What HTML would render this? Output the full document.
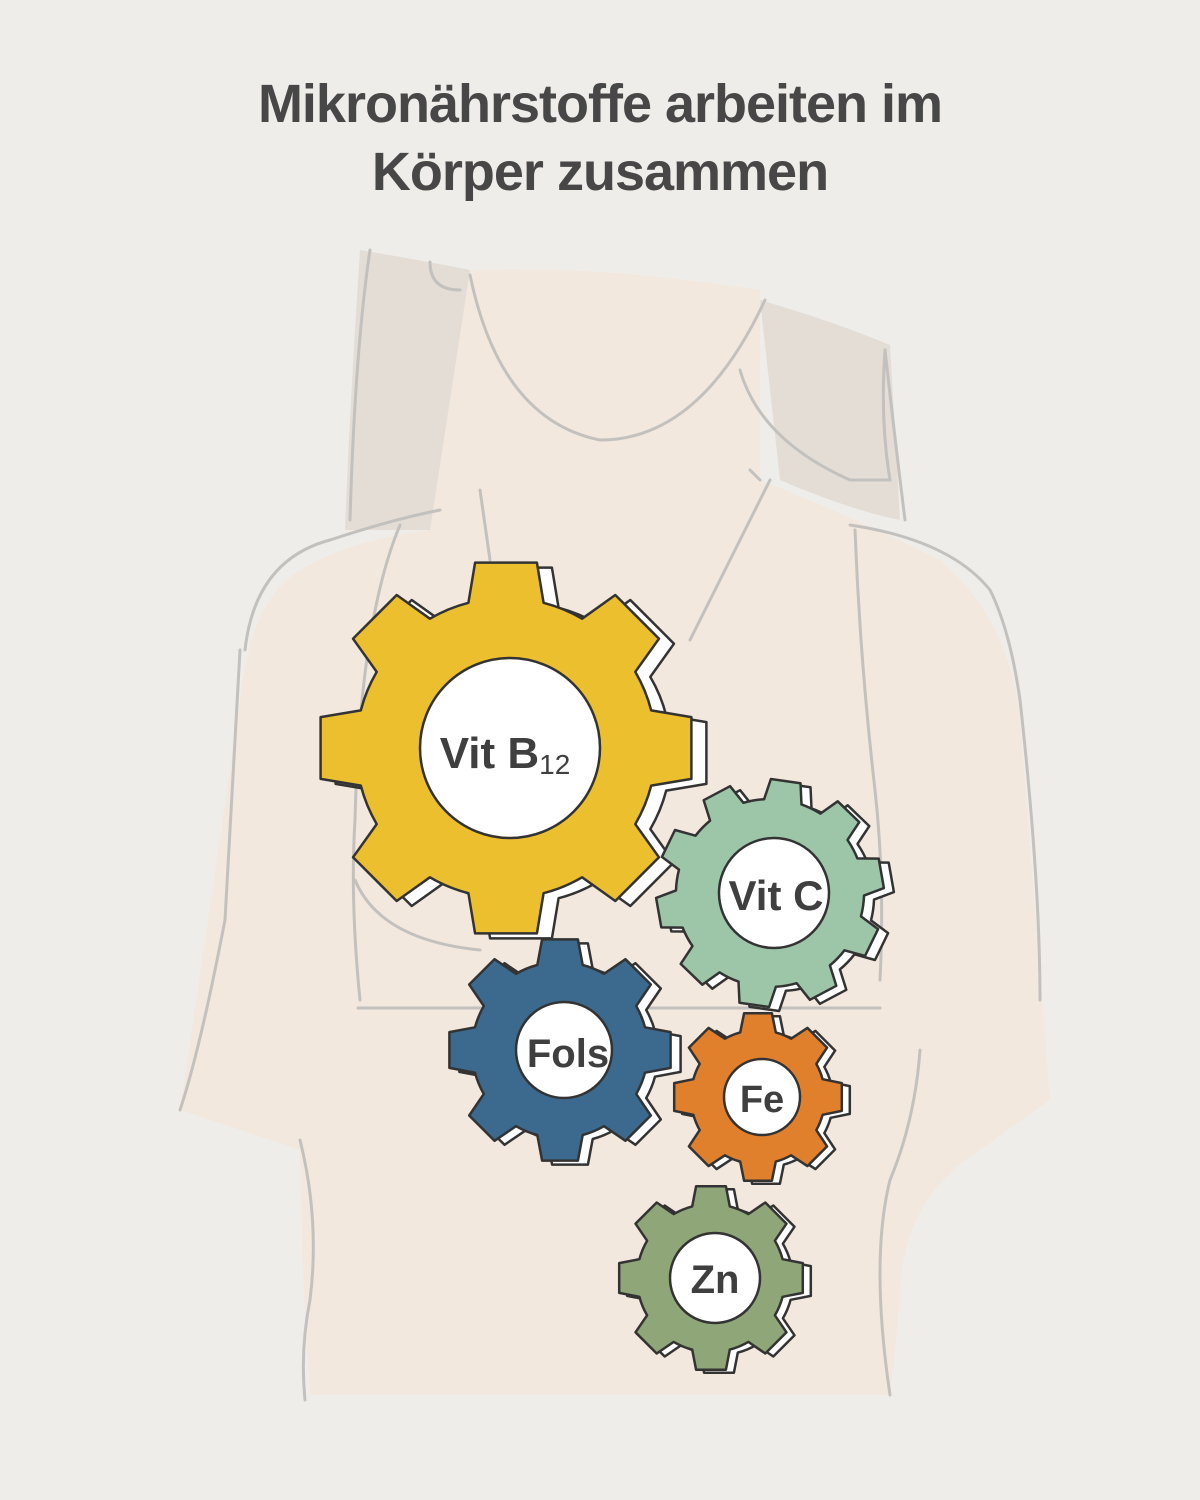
<!DOCTYPE html>
<html><head><meta charset="utf-8">
<style>
html,body{margin:0;padding:0;}
body{width:1200px;height:1500px;background:#efedea;overflow:hidden;position:relative;font-family:"Liberation Sans",sans-serif;}
h1{position:absolute;top:70px;left:0;width:1200px;margin:0;text-align:center;font-size:54px;line-height:68px;color:#474747;font-weight:bold;letter-spacing:-1px;}
svg{position:absolute;left:0;top:0;}
.lbl{font-family:"Liberation Sans",sans-serif;font-weight:bold;fill:#3f3f3f;text-anchor:middle;}
</style></head>
<body>
<svg width="1200" height="1500" viewBox="0 0 1200 1500">
 <g fill="none" stroke="#c3c1be" stroke-width="3" stroke-linecap="round">
  <path d="M470,270 Q600,265 760,290 L760,480 Q860,520 940,560 Q1010,620 1020,720 L1050,1100 L980,1150 Q900,1200 900,1300 L890,1395 L310,1395 Q300,1250 300,1150 L180,1110 L240,700 Q250,600 300,570 Q350,540 430,530 L470,270Z" fill="#f3e8de" stroke="none"/>
  <path d="M360,250 Q420,260 470,270 L430,530 L345,530 Q350,400 360,250Z" fill="#e3ddd6" stroke="none"/>
  <path d="M760,300 Q830,320 890,345 L900,520 Q850,510 780,480 L760,300Z" fill="#e3ddd6" stroke="none"/>
  <path d="M370,250 Q355,350 350,520"/>
  <path d="M430,262 Q430,290 460,290"/>
  <path d="M470,275 Q500,420 600,440 Q700,440 765,300"/>
  <path d="M740,370 Q760,440 850,480 L890,480 Q880,420 885,350"/>
  <path d="M885,350 Q895,440 905,520"/>
  <path d="M245,650 Q255,560 330,540 Q390,520 440,510"/>
  <path d="M240,650 L225,920 Q200,1050 180,1110"/>
  <path d="M480,490 L490,560"/>
  <path d="M770,480 Q730,560 690,640"/>
  <path d="M855,530 Q860,660 875,790 Q885,880 880,980"/>
  <path d="M850,525 Q950,540 990,590 Q1010,630 1020,700 Q1040,880 1040,1000"/>
  <path d="M400,525 Q360,620 355,820 Q350,900 360,1000"/>
  <path d="M355,880 Q380,940 480,950"/>
  <path d="M358,1008 L880,1008"/>
  <path d="M300,1140 Q320,1220 310,1300 Q300,1350 305,1400"/>
  <path d="M920,1050 Q915,1120 890,1180 Q870,1260 890,1395"/>
  <path d="M750,470 L760,480"/>
 </g>
 <g id="gears"></g>
</svg>
<h1>Mikronährstoffe arbeiten im<br>Körper zusammen</h1>
<script>
function gear(cx,cy,n,tip,body,htip,hbase,rot){
  let d="";
  for(let i=0;i<n;i++){
    const a=(i*360/n+rot)*Math.PI/180;
    const at=htip/tip, ab=hbase/body;
    const pts=[[body,a-ab],[tip,a-at],[tip,a+at],[body,a+ab]];
    pts.forEach((p,j)=>{
      const x=cx+p[0]*Math.sin(p[1]), y=cy-p[0]*Math.cos(p[1]);
      if(i==0&&j==0) d+="M"+x.toFixed(1)+","+y.toFixed(1);
      else if(j==0){ d+=" A"+body+","+body+" 0 0 1 "+x.toFixed(1)+","+y.toFixed(1);}
      else d+=" L"+x.toFixed(1)+","+y.toFixed(1);
    });
  }
  const a0=(rot)*Math.PI/180-hbase/body;
  d+=" A"+body+","+body+" 0 0 1 "+(cx+body*Math.sin(a0)).toFixed(1)+","+(cy-body*Math.cos(a0)).toFixed(1)+"Z";
  return d;
}
const G=[
 {cx:506,cy:748,n:8,tip:188,body:150,ht:31,hb:38,r:0,inner:90,col:"#ecbf2f",dx:15,dy:5},
 {cx:770,cy:893,n:10,tip:114,body:94,ht:15,hb:19,r:8,inner:55,col:"#9dc5a8",dx:10,dy:4},
 {cx:560,cy:1050,n:8,tip:112,body:88,ht:18,hb:23,r:0,inner:48,col:"#3b6a8e",dx:10,dy:4},
 {cx:758,cy:1097,n:8,tip:85,body:67,ht:14,hb:18,r:0,inner:38,col:"#e07f2c",dx:8,dy:3},
 {cx:711,cy:1278,n:8,tip:93,body:74,ht:15,hb:19,r:0,inner:45,col:"#8fa678",dx:8,dy:3}
];
let h="";
G.forEach(g=>{
  const p1=gear(g.cx+g.dx,g.cy+g.dy,g.n,g.tip,g.body,g.ht,g.hb,g.r);
  const p2=gear(g.cx,g.cy,g.n,g.tip,g.body,g.ht,g.hb,g.r);
  h+='<path d="'+p1+'" fill="#fff" stroke="#333" stroke-width="2.5" stroke-linejoin="round"/>';
  h+='<path d="'+p2+'" fill="'+g.col+'" stroke="#333" stroke-width="2.5" stroke-linejoin="round"/>';
  h+='<circle cx="'+(g.cx+4)+'" cy="'+g.cy+'" r="'+g.inner+'" fill="#fff" stroke="#333" stroke-width="2.5"/>';
});
document.getElementById("gears").innerHTML=h;
</script>
<svg width="1200" height="1500" viewBox="0 0 1200 1500" style="pointer-events:none">
 <text class="lbl" x="505" y="768" font-size="44">Vit B<tspan font-size="28" font-weight="normal" dy="6">12</tspan></text>
 <text class="lbl" x="776" y="910" font-size="42">Vit C</text>
 <text class="lbl" x="568" y="1067" font-size="40">Fols</text>
 <text class="lbl" x="762" y="1112" font-size="38">Fe</text>
 <text class="lbl" x="715" y="1293" font-size="40">Zn</text>
</svg>
</body></html>
